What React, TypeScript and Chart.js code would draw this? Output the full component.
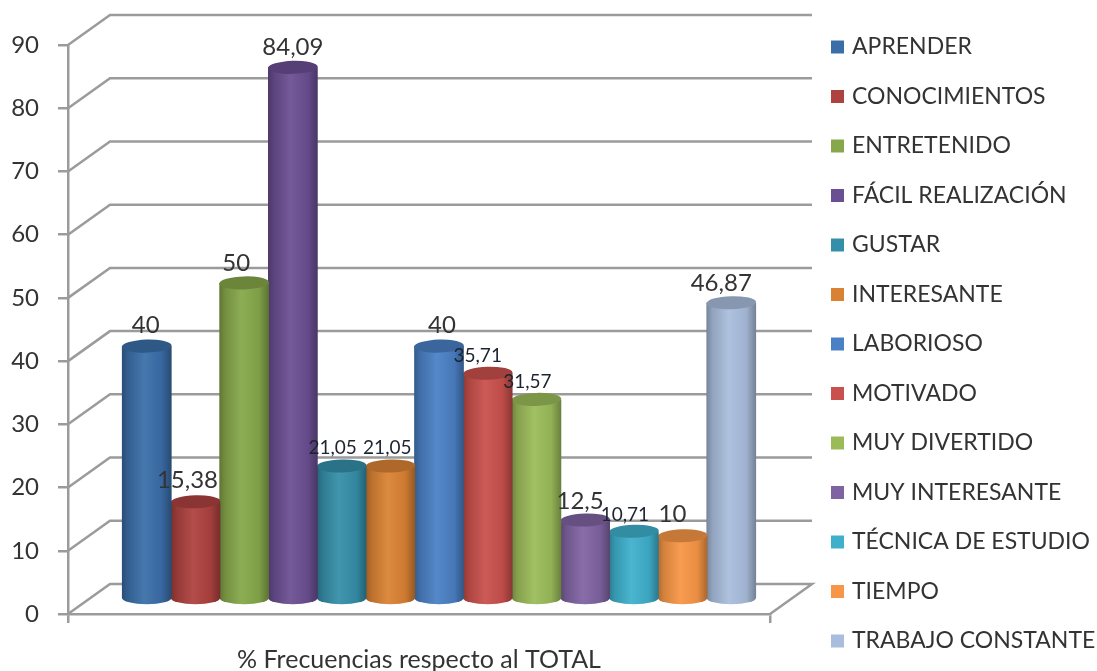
import React, { useEffect, useRef } from "react";
import { Chart, registerables } from "chart.js";

Chart.register(...registerables);

const categoryLabels = ["% Frecuencias respecto al TOTAL"];
const seriesNames = [
  "APRENDER", "CONOCIMIENTOS", "ENTRETENIDO", "FÁCIL REALIZACIÓN", "GUSTAR", "INTERESANTE", "LABORIOSO",
  "MOTIVADO", "MUY DIVERTIDO", "MUY INTERESANTE", "TÉCNICA DE ESTUDIO", "TIEMPO", "TRABAJO CONSTANTE",
];
const seriesValues = [40, 15.38, 50, 84.09, 21.05, 21.05, 40, 35.71, 31.57, 12.5, 10.71, 10, 46.87];
const seriesColors = [
  "#3a6ea8", "#ad4240", "#86a84a", "#6b4f93", "#358fa9", "#da8233", "#4a80c4",
  "#c9504c", "#9bbb59", "#8064a2", "#3fb0cc", "#f79646", "#a9bddc",
];
// Nudges for the value captions: [dx, dy above the cap, font size]
const captionPlacement: [number, number, number][] = [
  [-1, 21, 24], [-8, 21, 24], [-8, 20, 24], [0, 20, 24], [-9, 18, 19], [-3, 18, 19], [3, 21, 24],
  [-10, 17, 19], [-9, 18, 19], [-5, 19, 24], [-9, 16, 19], [-10, 22, 24], [-10, 19, 24],
];

const FONT = "Lato, 'Open Sans', sans-serif";
const INK = "#333333";
const RULE = "#9b9b9b";
// Projection of the 3D box: back wall offset and the offset of the columns' row
const WALL = { dx: 42, dy: -30 };
const ROW = { dx: 20, dy: -15 };
const CAP_RY = 6.5;

function shade(hex: string, k: number) {
  const n = parseInt(hex.slice(1), 16);
  const f = (c: number) => Math.max(0, Math.min(255, Math.round(k <= 1 ? c * k : c + (255 - c) * (k - 1))));
  return `rgb(${f((n >> 16) & 255)},${f((n >> 8) & 255)},${f(n & 255)})`;
}

const box3d = {
  id: "box3d",
  beforeLayout(chart: any) {
    // The legend rows are taller than the canvas allows for a single column, so let it measure freely
    // and reserve a fixed strip beside the plot.
    const legend = chart.legend;
    if (legend && !legend.__free) {
      const update = legend.update;
      legend.update = (w: number, _h: number, m: any) => {
        update.call(legend, w, 2000, m);
        legend.width = 327;
      };
      legend.__free = true;
    }
  },
  afterLayout(chart: any) {
    const legend = chart.legend;
    legend.left = 808;
    legend.right = 1097;
    legend.top = 9;
    legend.bottom = 2000;
  },
  beforeDatasetsDraw(chart: any) {
    const { ctx, chartArea, scales } = chart;
    const y = scales.y;
    ctx.save();
    ctx.strokeStyle = RULE;
    ctx.lineWidth = 2.5;
    for (const t of y.ticks) {
      const py = y.getPixelForValue(t.value);
      ctx.beginPath();
      ctx.moveTo(chartArea.left, py);
      ctx.lineTo(chartArea.left + WALL.dx, py + WALL.dy);
      ctx.lineTo(chartArea.right + WALL.dx, py + WALL.dy);
      if (t.value === 0) ctx.lineTo(chartArea.right, py);
      ctx.stroke();
    }
    ctx.restore();
  },
  beforeDatasetDraw(chart: any, args: any) {
    const { ctx } = chart;
    const bar = args.meta.data[0];
    const color = seriesColors[args.index];
    const w = bar.width + 1;
    const cx = bar.x + ROW.dx;
    const top = bar.y + ROW.dy;
    const base = bar.base + ROW.dy;
    const left = cx - w / 2;
    const g = ctx.createLinearGradient(left, 0, left + w, 0);
    g.addColorStop(0, shade(color, 0.7));
    g.addColorStop(0.12, shade(color, 0.86));
    g.addColorStop(0.45, shade(color, 1.06));
    g.addColorStop(0.8, shade(color, 0.94));
    g.addColorStop(1, shade(color, 0.68));
    ctx.save();
    ctx.fillStyle = g;
    ctx.beginPath();
    ctx.moveTo(left, top);
    ctx.lineTo(left, base);
    ctx.ellipse(cx, base, w / 2, CAP_RY, 0, Math.PI, 0, true);
    ctx.lineTo(left + w, top);
    ctx.closePath();
    ctx.fill();
    ctx.fillStyle = shade(color, 0.8);
    ctx.beginPath();
    ctx.ellipse(cx, top, w / 2, CAP_RY, -0.03, 0, Math.PI * 2);
    ctx.fill();
    ctx.restore();
    return false;
  },
  afterDatasetsDraw(chart: any) {
    const { ctx } = chart;
    ctx.save();
    ctx.textAlign = "center";
    ctx.textBaseline = "middle";
    chart.data.datasets.forEach((ds: any, i: number) => {
      const bar = chart.getDatasetMeta(i).data[0];
      const [dx, lift, size] = captionPlacement[i];
      ctx.font = `${size}px ${FONT}`;
      ctx.fillStyle = size < 20 ? "#1d2430" : INK;
      ctx.fillText(String(ds.data[0]).replace(".", ","), bar.x + ROW.dx + dx, bar.y + ROW.dy - lift);
    });
    ctx.restore();
  },
};

export default function App() {
  const ref = useRef<HTMLCanvasElement>(null);
  useEffect(() => {
    const chart = new Chart(ref.current!, {
      type: "bar",
      data: {
        labels: categoryLabels,
        datasets: seriesNames.map((label, i) => ({
          label,
          data: [seriesValues[i]],
          backgroundColor: seriesColors[i],
        })),
      },
      options: {
        responsive: false,
        animation: false,
        layout: { padding: { top: 45 } },
        datasets: { bar: { categoryPercentage: 0.902, barPercentage: 1 } },
        scales: {
          x: {
            grid: { drawOnChartArea: false, color: RULE, lineWidth: 2.5, tickLength: 9 },
            border: { color: RULE, width: 2.5 },
            ticks: { color: INK, font: { family: FONT, size: 25 }, padding: 22, maxRotation: 0 },
            afterFit: (s: any) => { s.height = 57; },
          },
          y: {
            min: 0,
            max: 90,
            grid: { drawOnChartArea: false, color: RULE, lineWidth: 2.5, tickLength: 10 },
            border: { color: RULE, width: 2.5 },
            ticks: { stepSize: 10, color: INK, font: { family: FONT, size: 24 }, padding: 19 },
            afterFit: (s: any) => { s.width = 68; },
          },
        },
        plugins: {
          tooltip: { enabled: false },
          legend: {
            position: "right",
            align: "start",
            labels: {
              color: INK,
              font: { family: FONT, size: 23 },
              boxWidth: 6,
              boxHeight: 6,
              padding: 26.5,
              generateLabels: (c: any) =>
                Chart.defaults.plugins.legend.labels.generateLabels(c).map((item: any) => ({
                  ...item,
                  strokeStyle: item.fillStyle,
                  lineWidth: 7,
                })),
            },
          },
        },
      } as any,
      plugins: [box3d as any],
    });
    return () => chart.destroy();
  }, []);
  return (
    <div style={{ position: "fixed", left: 0, top: 0 }}>
      <canvas ref={ref} width={1097} height={671} style={{ display: "block" }} />
    </div>
  );
}
